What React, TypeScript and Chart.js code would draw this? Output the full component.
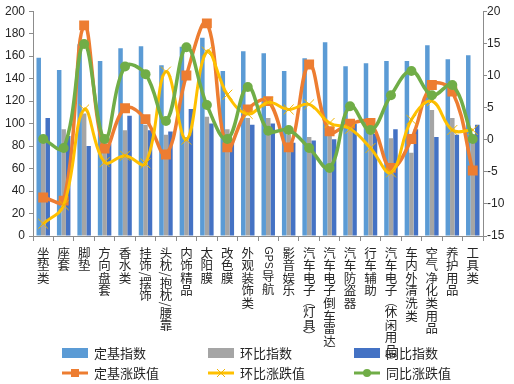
import React, { useEffect, useRef } from 'react';
import { Chart, registerables } from 'chart.js';

Chart.register(...registerables);

const categories = ['坐垫类', '座套', '脚垫', '方向盘套', '香水类', '挂饰/摆饰', '头枕/抱枕/腰靠', '内饰精品', '太阳膜', '改色膜', '外观装饰类', 'GPS导航', '影音娱乐', '汽车电子（灯具）', '汽车电子倒车雷达', '汽车防盗器', '行车辅助', '汽车电子（休闲用品）', '车内外清洗类', '空气净化类用品', '养护用品', '工具类'];

const fixedIndex = [158.5, 147.6, 170.7, 155.6, 167.1, 168.9, 152, 168.3, 176.3, 146.7, 164.4, 162.7, 146.7, 158.2, 172.4, 151.1, 153.8, 155.6, 155.6, 169.8, 157.3, 160.9];
const chainIndex = [84, 95, 109, 88, 94, 99, 90, 88, 106, 95, 105, 105, 90, 88, 91, 98, 91, 87, 74, 112, 105, 88];
const yoyIndex = [105, 89, 80, 82, 107, 94, 93, 113, 100, 84, 99, 100, 83, 85, 86, 100, 91, 95, 95, 88, 90, 99];

const fixedChange = [-9.0, -9.5, 17.8, -1.4, 4.9, 3.2, -2.3, 10.0, 18.1, -1.2, 4.7, 6.0, -1.2, 11.7, 1.3, 2.5, 2.6, -4.4, 0.1, 8.5, 7.5, -4.8];
const chainChange = [-13.1, -10.2, 4.7, -3.5, -2.5, -3.7, 10.6, 0, 13.7, 7.0, 4.0, 5.8, 4.7, 5.5, 2.6, 1.7, -1.3, -5.1, 3.1, 6.0, 1.5, 1.5];
const yoyChange = [0.1, -1.3, 14.9, 0.1, 11.4, 10.2, 2.9, 14.4, 5.4, 0.1, 8.2, 1.4, 1.5, -1.3, -4.4, 5.2, 1.5, 6.9, 10.7, 6.9, 8.5, 0.1];

const leftTicks = { min: 0, max: 200, step: 20 };
const rightTicks = { min: -15, max: 20, step: 5 };

const TEXT = '#262626';
const AXIS = '#8c8c8c';

const verticalLabelPlugin = {
  id: 'verticalLabels',
  afterDraw(chart: any) {
    const ctx = chart.ctx;
    const xs = chart.scales.x;
    const step = 12.6;
    ctx.save();
    ctx.fillStyle = TEXT;
    ctx.textAlign = 'center';
    ctx.textBaseline = 'middle';
    categories.forEach((lab, i) => {
      const x = xs.getPixelForValue(i);
      let y = chart.chartArea.bottom + 10.5;
      const runs: string[] = lab.match(/[\u4e00-\u9fff]|[^\u4e00-\u9fff]+/g) || [];
      for (const r of runs) {
        if (/[\u4e00-\u9fff]/.test(r)) {
          ctx.font = '12.5px "Noto Sans CJK SC"';
          ctx.fillText(r, x, y + step / 2);
          y += step;
        } else {
          const isLatin = /[A-Za-z]/.test(r);
          ctx.font = isLatin ? '10.5px "Liberation Sans"' : '12.5px "Noto Sans CJK SC"';
          let w = ctx.measureText(r).width;
          if (/[（）]/.test(r)) w = step * 0.72;
          ctx.save();
          ctx.translate(x, y + w / 2);
          ctx.rotate(Math.PI / 2);
          ctx.fillText(r, 0, 0);
          ctx.restore();
          y += w + (isLatin ? 1.5 : 0);
        }
      }
    });
    ctx.restore();
  },
};

const legendPlugin = {
  id: 'gridLegend',
  afterDraw(chart: any) {
    const ctx = chart.ctx;
    const cols = [62, 208, 354];
    const rows = [353, 373];
    ctx.save();
    chart.data.datasets.forEach((d: any, i: number) => {
      const x = cols[i % 3];
      const y = rows[Math.floor(i / 3)];
      if (d.type === 'bar') {
        ctx.fillStyle = d.backgroundColor;
        ctx.fillRect(x, y - 5, 26, 10);
      } else {
        ctx.strokeStyle = d.borderColor;
        ctx.lineWidth = 3;
        ctx.beginPath();
        ctx.moveTo(x, y);
        ctx.lineTo(x + 26, y);
        ctx.stroke();
        const cx = x + 13;
        if (d.pointStyle === 'rect') {
          ctx.fillStyle = d.borderColor;
          ctx.fillRect(cx - 4, y - 4, 8, 8);
        } else if (d.pointStyle === 'circle') {
          ctx.fillStyle = d.borderColor;
          ctx.beginPath();
          ctx.arc(cx, y, 4, 0, Math.PI * 2);
          ctx.fill();
        } else {
          ctx.strokeStyle = d.pointBorderColor;
          ctx.lineWidth = 1;
          ctx.beginPath();
          ctx.moveTo(cx - 4, y - 4);
          ctx.lineTo(cx + 4, y + 4);
          ctx.moveTo(cx + 4, y - 4);
          ctx.lineTo(cx - 4, y + 4);
          ctx.stroke();
        }
      }
      ctx.fillStyle = TEXT;
      ctx.font = '13px "Noto Sans CJK SC"';
      ctx.textAlign = 'left';
      ctx.textBaseline = 'middle';
      ctx.fillText(d.label, x + 32, y + 0.5);
    });
    ctx.restore();
  },
};

export default function App() {
  const ref = useRef<HTMLCanvasElement>(null);
  useEffect(() => {
    const canvas = ref.current;
    if (!canvas) return;
    const barCommon = { type: 'bar', yAxisID: 'y', categoryPercentage: 0.66, barPercentage: 1.0 };
    const lineCommon = { type: 'line', yAxisID: 'y1', tension: 0.4, fill: false, borderWidth: 3.5 };
    const chart = new Chart(canvas, {
      type: 'bar',
      data: {
        labels: categories,
        datasets: [
          { ...barCommon, label: '定基指数', data: fixedIndex, backgroundColor: '#5B9BD5', order: 10 },
          { ...barCommon, label: '环比指数', data: chainIndex, backgroundColor: '#A5A5A5', order: 11 },
          { ...barCommon, label: '同比指数', data: yoyIndex, backgroundColor: '#4472C4', order: 12 },
          { ...lineCommon, label: '定基涨跌值', data: fixedChange, borderColor: '#ED7D31', backgroundColor: '#ED7D31', pointStyle: 'rect', pointRadius: 7, pointBorderWidth: 0, pointBackgroundColor: '#ED7D31', order: 3 },
          { ...lineCommon, label: '环比涨跌值', data: chainChange, borderColor: '#FFC000', backgroundColor: '#FFC000', pointStyle: 'crossRot', pointRadius: 7, pointBorderWidth: 1, pointBorderColor: '#F0B400', borderWidth: 3, order: 2 },
          { ...lineCommon, label: '同比涨跌值', data: yoyChange, borderColor: '#70AD47', backgroundColor: '#70AD47', pointStyle: 'circle', pointRadius: 5, pointBorderWidth: 0, pointBackgroundColor: '#70AD47', order: 1 },
        ] as any,
      },
      options: {
        responsive: false,
        animation: false,
        devicePixelRatio: 1,
        layout: { padding: { top: 11, left: 0, right: 0, bottom: 0 } },
        plugins: { legend: { display: false }, tooltip: { enabled: false } },
        scales: {
          x: {
            afterFit: (s: any) => { s.height = 148; },
            ticks: { display: false },
            grid: { offset: true, drawOnChartArea: false, drawTicks: true, tickLength: 5, color: AXIS },
            border: { display: true, color: AXIS },
          },
          y: {
            position: 'left',
            min: leftTicks.min,
            max: leftTicks.max,
            afterFit: (s: any) => { s.width = 33; },
            ticks: { stepSize: leftTicks.step, padding: 4, color: TEXT, font: { family: '"Liberation Sans"', size: 12 } },
            grid: { drawOnChartArea: false, drawTicks: true, tickLength: 4, color: AXIS },
            border: { display: true, color: AXIS },
          },
          y1: {
            position: 'right',
            min: rightTicks.min,
            max: rightTicks.max,
            afterFit: (s: any) => { s.width = 31; },
            ticks: { stepSize: rightTicks.step, padding: 0, color: TEXT, font: { family: '"Liberation Sans"', size: 12 } },
            grid: { drawOnChartArea: false, drawTicks: true, tickLength: 4, color: AXIS },
            border: { display: true, color: AXIS },
          },
        },
      } as any,
      plugins: [verticalLabelPlugin, legendPlugin],
    });
    return () => chart.destroy();
  }, []);
  return (
    <div style={{ position: 'fixed', left: 0, top: 0, width: 514, height: 384, background: '#fff' }}>
      <canvas ref={ref} width={514} height={384} />
    </div>
  );
}
